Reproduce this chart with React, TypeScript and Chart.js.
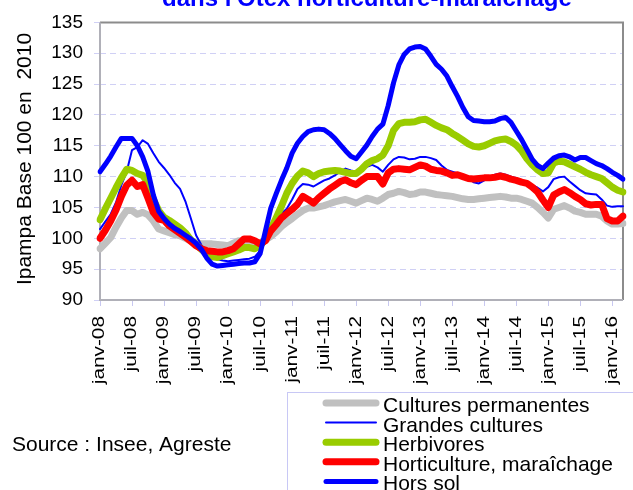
import React, { useEffect, useRef } from 'react';
import { Chart, registerables } from 'chart.js';

Chart.register(...registerables);

const FONT = '"Liberation Sans", Arial, Helvetica, sans-serif';

// Month categories janv-08 .. mars-16
const monthNames = ['janv', 'févr', 'mars', 'avr', 'mai', 'juin', 'juil', 'août', 'sept', 'oct', 'nov', 'déc'];
const years = ['08', '09', '10', '11', '12', '13', '14', '15', '16'];
const monthCount = 99;
const categories: string[] = [];
for (let i = 0; i < monthCount; i++) categories.push(`${monthNames[i % 12]}-${years[Math.floor(i / 12)]}`);
const shownMonths = ['janv', 'juil'];

const yTicks = { min: 90, max: 135, step: 5 };

const culturesPermanentes = [
  98.3, 99.2, 100.1, 101.8, 103.3, 104.5, 104.5, 103.9, 104.2, 103.8, 102.8, 101.5,
  101.2, 100.9, 100.6, 100.4, 100.0, 99.6, 99.3, 99.1, 99.1, 99.1, 99.0, 98.9,
  98.8, 99.2, 99.6, 99.5, 99.3, 99.3, 99.3, 99.7, 100.3, 101.0, 101.9, 102.6,
  103.2, 103.9, 104.5, 104.9, 104.9, 105.1, 105.3, 105.6, 105.9, 106.1, 106.3, 106.0,
  105.7, 106.1, 106.5, 106.3, 106.0, 106.5, 107.1, 107.3, 107.6, 107.4, 107.1, 107.2,
  107.5, 107.5, 107.3, 107.1, 107.0, 106.9, 106.8, 106.6, 106.4, 106.3, 106.3, 106.4,
  106.5, 106.6, 106.7, 106.8, 106.7, 106.5, 106.5, 106.3, 106.0, 105.7, 105.0, 104.2,
  103.3, 104.7, 105.0, 105.3, 104.9, 104.4, 104.2, 103.9, 103.9, 103.9, 103.6, 102.8,
  102.3, 102.3, 102.4,
];

const grandesCultures = [
  101.5, 102.7, 103.9, 105.8, 108.6, 110.8, 114.3, 114.8, 115.9, 115.3, 113.8, 112.4,
  111.4, 110.3, 109.0, 108.0, 106.0, 103.3, 100.5, 98.9, 97.7, 97.1, 96.6, 96.4,
  96.3, 96.4, 96.5, 96.6, 96.7, 97.0, 98.0, 100.5, 102.2, 103.1, 104.0, 104.8,
  106.3, 108.0, 108.8, 108.7, 108.4, 108.9, 109.4, 109.7, 110.2, 110.8, 111.3, 111.0,
  110.8, 111.2, 111.6, 111.9, 111.5, 110.8, 111.9, 112.8, 113.2, 113.1, 112.8, 112.9,
  113.2, 113.2, 113.0, 112.7, 111.8, 111.1, 110.8, 110.5, 110.3, 109.8, 109.1, 108.9,
  109.4, 110.0, 110.3, 110.5, 110.3, 110.0, 109.7, 109.3, 108.9, 108.6, 108.2, 107.6,
  108.3, 109.6, 109.9, 110.0, 109.2, 108.5, 107.8, 107.3, 107.2, 107.1, 106.3, 105.3,
  105.1, 105.2, 105.2,
];

const herbivores = [
  103.0, 104.8, 106.5, 108.2, 109.8, 111.2, 111.0, 110.5, 110.2, 109.0, 106.3, 104.5,
  103.4, 102.9, 102.3, 101.7, 100.9, 99.8, 99.0, 98.2, 97.5, 97.0, 96.9, 97.2,
  97.5, 97.8, 98.1, 98.5, 98.5, 98.3, 98.8, 99.8, 101.5, 103.3, 105.2, 107.3,
  108.9, 110.1, 110.9, 110.6, 110.0, 110.5, 110.8, 110.9, 111.0, 110.9, 110.7, 110.5,
  110.5, 111.2, 112.1, 112.6, 112.9, 113.5, 115.0, 117.5, 118.6, 118.8, 118.8, 118.9,
  119.2, 119.3, 118.8, 118.3, 117.9, 117.6, 117.0, 116.5, 115.9, 115.3, 114.9, 114.8,
  115.0, 115.4, 115.8, 116.0, 116.1, 115.7, 115.1, 114.2, 112.9, 111.9, 111.1, 110.5,
  110.6, 112.2, 112.5, 112.4, 112.0, 111.6, 111.2, 110.7, 110.3, 110.0, 109.7, 109.0,
  108.3, 107.8, 107.5,
];

const horticulture = [
  100.0, 101.3, 102.8, 104.6, 106.8, 108.6, 109.4, 108.4, 108.7, 106.5, 104.2, 103.1,
  102.9, 102.0, 101.4, 100.8, 100.2, 99.5, 98.8, 98.3, 98.0, 97.9, 97.8, 97.8,
  98.0, 98.3, 99.1, 99.9, 99.9, 99.6, 99.1, 99.6, 101.2, 102.2, 103.3, 104.0,
  104.7, 105.5, 106.8, 106.3, 105.7, 106.6, 107.3, 108.0, 108.6, 109.2, 109.5, 109.0,
  108.7, 109.4, 110.0, 110.0, 110.0, 108.8, 110.6, 111.2, 111.3, 111.2, 111.1, 111.5,
  111.9, 111.7, 111.2, 111.0, 110.9, 110.6, 110.2, 110.3, 110.0, 109.7, 109.6, 109.7,
  109.8, 109.8, 109.9, 110.1, 109.9, 109.6, 109.4, 109.1, 108.9, 108.3, 107.5, 106.2,
  105.0, 107.0, 107.5, 107.9, 107.4, 106.8, 106.3, 105.6, 105.4, 105.5, 105.5, 103.2,
  102.8, 102.8, 103.6,
];

const horsSol = [
  110.8, 112.0, 113.3, 114.8, 116.2, 116.2, 116.2, 115.0, 113.2, 110.8, 107.0, 104.4,
  103.2, 102.3, 101.6, 101.1, 100.5, 99.9, 99.2, 98.2, 96.8, 95.8, 95.5, 95.6,
  95.7, 95.8, 95.9, 96.0, 96.0, 96.2, 97.5, 101.2, 104.9, 107.2, 109.4, 111.4,
  113.8, 115.4, 116.5, 117.3, 117.6, 117.7, 117.6, 117.0, 116.2, 115.2, 114.2, 113.3,
  112.9, 114.0, 115.1, 116.5, 117.7, 118.5, 121.5, 125.2, 128.1, 129.8, 130.7, 131.0,
  131.1, 130.7, 129.5, 128.2, 127.4, 126.3, 124.6, 123.0, 121.2, 119.7, 119.1, 119.0,
  118.9, 118.9, 119.0, 119.4, 119.6, 118.8, 117.4, 116.0, 114.4, 112.8, 111.8, 111.3,
  112.2, 113.0, 113.4, 113.5, 113.2, 112.7, 113.1, 113.1, 112.6, 112.1, 111.8, 111.3,
  110.7, 110.2, 109.6,
];

const seriesLabels = ['Cultures permanentes', 'Grandes cultures', 'Herbivores', 'Horticulture, maraîchage', 'Hors sol'];
const seriesColors = ['#C0C0C0', '#0000FF', '#99CC00', '#FF0000', '#0000FF'];
const seriesWidths = [7, 2, 7, 7, 5];
const seriesData = [culturesPermanentes, grandesCultures, herbivores, horticulture, horsSol];

const titleText = "dans l'Otex horticulture-maraîchage";
const yTitleText = 'Ipampa Base 100 en  2010';
const sourceText = 'Source : Insee, Agreste';

const decorPlugin = {
  id: 'decor',
  beforeDatasetsDraw(chart: any) {
    const { ctx, chartArea: a } = chart;
    ctx.save();
    ctx.lineWidth = 2;
    ctx.strokeStyle = '#8c8c8c';
    ctx.beginPath();
    ctx.moveTo(a.left, a.top);
    ctx.lineTo(a.right, a.top);
    ctx.lineTo(a.right, a.bottom);
    ctx.stroke();
    ctx.strokeStyle = '#b0b0b8';
    ctx.beginPath();
    ctx.moveTo(a.left, a.top);
    ctx.lineTo(a.left, a.bottom);
    ctx.lineTo(a.right, a.bottom);
    ctx.stroke();
    ctx.restore();
  },
  afterDraw(chart: any) {
    const { ctx } = chart;
    const xs = chart.scales.x;
    ctx.save();
    // title (partially cut off at top)
    ctx.fillStyle = '#0000FF';
    ctx.font = `bold 24px ${FONT}`;
    ctx.textAlign = 'left';
    ctx.textBaseline = 'alphabetic';
    ctx.fillText(titleText, 162, 6);

    // y axis title
    ctx.save();
    ctx.fillStyle = '#000';
    ctx.font = `21px ${FONT}`;
    ctx.translate(25, 159);
    ctx.rotate(-Math.PI / 2);
    ctx.textAlign = 'center';
    ctx.textBaseline = 'middle';
    ctx.fillText(yTitleText, 0, 0);
    ctx.restore();

    // x labels (rotated, stretched)
    ctx.fillStyle = '#000';
    ctx.font = `16px ${FONT}`;
    categories.forEach((lab, i) => {
      if (!shownMonths.includes(lab.split('-')[0])) return;
      const x = xs.getPixelForValue(i);
      ctx.save();
      ctx.translate(x, 316);
      ctx.rotate(-Math.PI / 2);
      ctx.scale(1.3, 1);
      ctx.textAlign = 'right';
      ctx.textBaseline = 'middle';
      ctx.fillText(lab, 0, 0);
      ctx.restore();
    });

    // source
    ctx.font = `21px ${FONT}`;
    ctx.textAlign = 'left';
    ctx.textBaseline = 'alphabetic';
    ctx.fillText(sourceText, 12, 451);

    // legend box
    ctx.strokeStyle = '#c8c8f5';
    ctx.lineWidth = 1;
    ctx.strokeRect(287.5, 392.5, 400, 200);
    chart.data.datasets.forEach((ds: any, k: number) => {
      const y = 403 + 19.6 * k;
      ctx.strokeStyle = ds.borderColor;
      ctx.lineWidth = ds.borderWidth;
      ctx.lineCap = 'round';
      ctx.beginPath();
      ctx.moveTo(326, y);
      ctx.lineTo(376, y);
      ctx.stroke();
      ctx.fillStyle = '#000';
      ctx.font = `21px ${FONT}`;
      ctx.fillText(ds.label, 383, y + 9);
    });
    ctx.restore();
  },
};

export default function App() {
  const ref = useRef<HTMLCanvasElement | null>(null);
  useEffect(() => {
    if (!ref.current) return;
    const chart = new Chart(ref.current, {
      type: 'line',
      data: {
        labels: categories,
        datasets: seriesData.map((d, k) => ({
          label: seriesLabels[k],
          data: d,
          borderColor: seriesColors[k],
          backgroundColor: seriesColors[k],
          borderWidth: seriesWidths[k],
          pointRadius: 0,
          tension: 0,
          fill: false,
          borderJoinStyle: 'round' as const,
          borderCapStyle: 'round' as const,
          order: seriesData.length - 1 - k,
        })),
      },
      options: {
        animation: false,
        responsive: true,
        maintainAspectRatio: false,
        layout: { padding: { top: 19, right: 10, left: 0, bottom: 0 } },
        plugins: { legend: { display: false }, title: { display: false }, tooltip: { enabled: false } },
        scales: {
          x: {
            type: 'category',
            offset: false,
            border: { display: false },
            grid: {
              drawOnChartArea: false,
              drawTicks: true,
              tickLength: 6,
              tickColor: (c: any) => (shownMonths.includes(String(categories[c.index] || '').split('-')[0]) ? '#c8c8f0' : 'rgba(0,0,0,0)'),
            },
            ticks: { display: false, autoSkip: false },
            afterFit: (s: any) => { s.height = 190; },
          },
          y: {
            min: yTicks.min,
            max: yTicks.max,
            border: { display: false, dash: [6, 4] },
            grid: { color: '#d0d0f5', lineWidth: 1, tickLength: 6, tickColor: '#d0d0f5' },
            ticks: { stepSize: yTicks.step, color: '#000', padding: 11, font: { family: FONT, size: 19 } },
            afterFit: (s: any) => { s.width = 100; },
          },
        },
      },
      plugins: [decorPlugin],
    });
    return () => chart.destroy();
  }, []);
  return (
    <div style={{ position: 'fixed', left: 0, top: 0, width: 633, height: 490, background: '#fff' }}>
      <canvas ref={ref} />
    </div>
  );
}
